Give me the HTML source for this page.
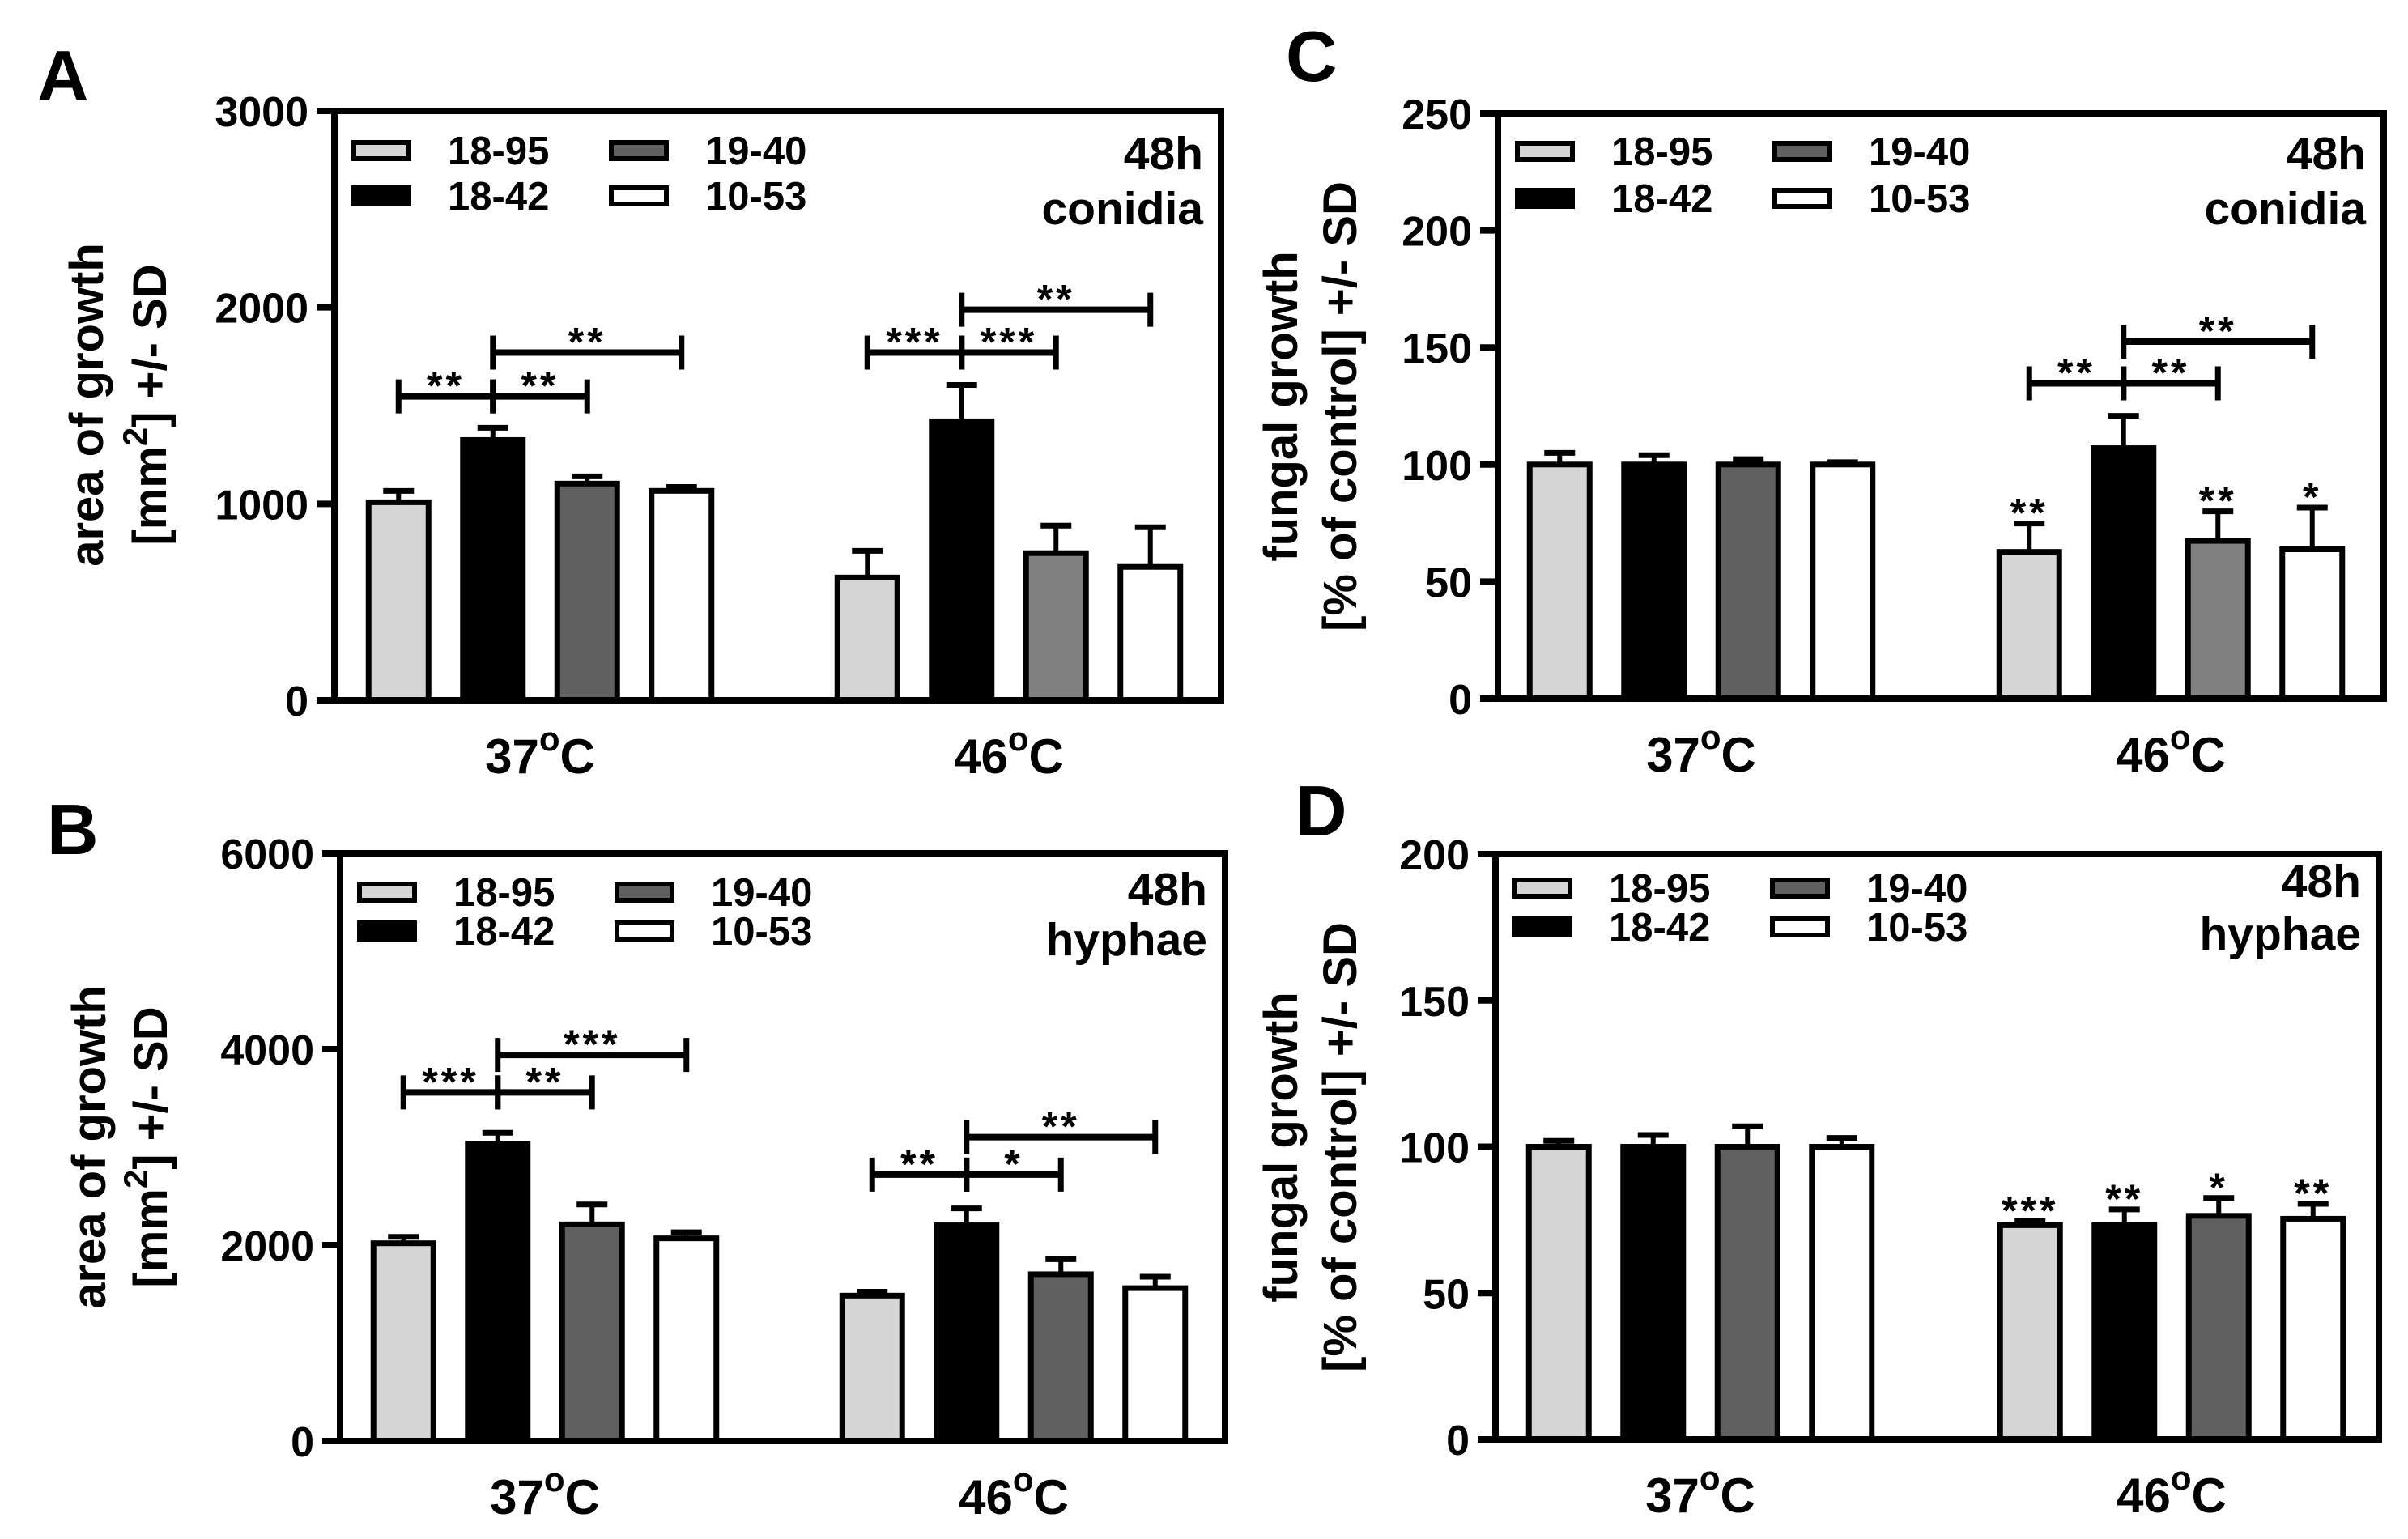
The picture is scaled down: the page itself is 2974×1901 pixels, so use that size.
<!DOCTYPE html>
<html><head><meta charset="utf-8"><title>Fungal growth panels</title>
<style>
html,body{margin:0;padding:0;background:#fff;}
svg{display:block;}
text{font-family:"Liberation Sans",Arial,sans-serif;font-weight:bold;fill:#000;}
</style></head>
<body>
<svg id="fig" width="2974" height="1901" viewBox="0 0 2974 1901" xmlns="http://www.w3.org/2000/svg"></svg>
<script>
// ---- data ----
const categories = ["37", "46"];
const strains = ["18-95", "18-42", "19-40", "10-53"];
// Panel A: area of growth, conidia (mm2)
const aMeans = [[1008, 1325, 1103, 1066], [625, 1420, 749, 679]];
const aErr   = [[1066, 1387, 1140, 1086], [761, 1605, 889, 881]];
// Panel B: area of growth, hyphae (mm2)
const bMeans = [[2019, 3036, 2212, 2069], [1485, 2202, 1703, 1561]];
const bErr   = [[2085, 3147, 2415, 2131], [1525, 2375, 1856, 1678]];
// Panel C: % of control, conidia
const cMeans = [[100, 100, 100, 100], [62.7, 107, 67.4, 63.8]];
const cErr   = [[105, 104, 102.3, 101], [74.8, 120.8, 80, 81.6]];
// Panel D: % of control, hyphae
const dMeans = [[100, 100, 100, 100], [73.2, 73.2, 76.4, 75.4]];
const dErr   = [[102, 104, 107, 103], [74.6, 78.6, 82.5, 80.5]];
// tick labels
const aTicks = [0, 1000, 2000, 3000];
const bTicks = [0, 2000, 4000, 6000];
const cTicks = [0, 50, 100, 150, 200, 250];
const dTicks = [0, 50, 100, 150, 200];
// significance brackets: [group, barFrom, barTo, value, label]
const aBrackets = [[0,0,1,1547,"**"],[0,1,2,1547,"**"],[0,1,3,1770,"**"],[1,0,1,1770,"***"],[1,1,2,1770,"***"],[1,1,3,1988,"**"]];
const bBrackets = [[0,0,1,3559,"***"],[0,1,2,3559,"**"],[0,1,3,3941,"***"],[1,0,1,2720,"**"],[1,1,2,2720,"*"],[1,1,3,3102,"**"]];
const cBrackets = [[1,0,1,134.7,"**"],[1,1,2,134.7,"**"],[1,1,3,152.5,"**"]];
const dBrackets = [];
// stars above individual bars: [group, bar, label]
const cStars = [[1,0,"**"],[1,2,"**"],[1,3,"*"]];
const dStars = [[1,0,"***"],[1,1,"**"],[1,2,"*"],[1,3,"**"]];
</script>
<script>
const NS = "http://www.w3.org/2000/svg";
const svg = document.getElementById("fig");
function mk(tag, attrs, parent) {
  const e = document.createElementNS(NS, tag);
  for (const k in attrs) e.setAttribute(k, attrs[k]);
  (parent || svg).appendChild(e);
  return e;
}
const fills = ["#d5d5d5", "#000000", "#606060", "#ffffff"];

const panels = [
  {id:"a", letter:"A", lx:46, ly:124, x0:413, x1:1508, yT:137, yB:865, max:3000, ticks:aTicks, means:aMeans, err:aErr,
   g:[667,1246], br:aBrackets, stars:[], t1:"area of growth", t2:"mm2", tx1:127, tx2:205, ty:500,
   legTop:186, legGap:56, hx:"conidia", h1:209, h2:277, gray46:"#808080"},
  {id:"b", letter:"B", lx:58, ly:1055, x0:420, x1:1513, yT:1054, yB:1780, max:6000, ticks:bTicks, means:bMeans, err:bErr,
   g:[673,1252], br:bBrackets, stars:[], t1:"area of growth", t2:"mm2", tx1:130, tx2:206, ty:1417,
   legTop:1102, legGap:48, hx:"hyphae", h1:1118, h2:1180, gray46:"#606060"},
  {id:"c", letter:"C", lx:1588, ly:100, x0:1850, x1:2944, yT:140, yB:863, max:250, ticks:cTicks, means:cMeans, err:cErr,
   g:[2101,2681], br:cBrackets, stars:cStars, t1:"fungal growth", t2:"pct", tx1:1602, tx2:1675, ty:502,
   legTop:187, legGap:58, hx:"conidia", h1:209, h2:277, gray46:"#808080"},
  {id:"d", letter:"D", lx:1600, ly:1032, x0:1847, x1:2938, yT:1055, yB:1778, max:200, ticks:dTicks, means:dMeans, err:dErr,
   g:[2100,2682], br:dBrackets, stars:dStars, t1:"fungal growth", t2:"pct", tx1:1602, tx2:1675, ty:1417,
   legTop:1097, legGap:48, hx:"hyphae", h1:1108, h2:1173, gray46:"#606060"}
];

const PITCH = 116.5, BW = 74;

panels.forEach(p => {
  const grp = mk("g", {});
  
  
  const y = v => p.yB - v / p.max * (p.yB - p.yT);
  const bx = (gi, si) => p.g[gi] + (si - 1.5) * PITCH;

  const L = mk("text", {x:p.lx, y:p.ly, "font-size":88}, grp);
  L.textContent = p.letter;
  
  

  // bars
  p.means.forEach((row, gi) => {
    row.forEach((v, si) => {
      const cx = bx(gi, si);
      const e = p.err[gi][si];
      const el = mk("line", {x1:cx, x2:cx, y1:y(v), y2:y(e), stroke:"#000", "stroke-width":6}, grp);
      
      
      const cap = mk("line", {x1:cx-19, x2:cx+19, y1:y(e), y2:y(e), stroke:"#000", "stroke-width":7}, grp);
      
      
      let f = fills[si];
      if (si === 2 && gi === 1) f = p.gray46;
      const r = mk("rect", {x:cx-BW/2, y:y(v), width:BW, height:y(0)-y(v), fill:f, stroke:"#000", "stroke-width":7}, grp);
      
      
    });
  });

  // frame
  const fr = mk("rect", {x:p.x0, y:p.yT, width:p.x1-p.x0, height:p.yB-p.yT, fill:"none", stroke:"#000", "stroke-width":8}, grp);
  
  

  // ticks
  p.ticks.forEach(t => {
    const tl = mk("line", {x1:p.x0-22, x2:p.x0, y1:y(t), y2:y(t), stroke:"#000", "stroke-width":8}, grp);
    
    
    const tt = mk("text", {x:p.x0-32, y:y(t)+19, "font-size":52, "text-anchor":"end"}, grp);
    tt.textContent = t;
    
    
  });

  // x labels
  categories.forEach((c, gi) => {
    const xl = mk("text", {x:p.g[gi], y:p.yB+90, "font-size":60, "text-anchor":"middle"}, grp);
    
    
    const s1 = mk("tspan", {}, xl); s1.textContent = c;
    const s2 = mk("tspan", {dy:-28, "font-size":42}, xl); s2.textContent = "o";
    const s3 = mk("tspan", {dy:28}, xl); s3.textContent = "C";
  });

  // y title
  const t1 = mk("text", {transform:`translate(${p.tx1},${p.ty}) rotate(-90)`, "font-size":58, "text-anchor":"middle"}, grp);
  t1.textContent = p.t1;
  
  
  const t2 = mk("text", {transform:`translate(${p.tx2},${p.ty}) rotate(-90)`, "font-size":58, "text-anchor":"middle"}, grp);
  
  
  if (p.t2 === "mm2") {
    const a = mk("tspan", {}, t2); a.textContent = "[mm";
    const b = mk("tspan", {dy:-24, "font-size":42}, t2); b.textContent = "2";
    const c = mk("tspan", {dy:24}, t2); c.textContent = "] +/- SD";
  } else {
    t2.textContent = "[% of control] +/- SD";
  }

  // legend
  strains.forEach((s, si) => {
    const col = si === 0 || si === 1 ? 0 : 1;
    const row = si === 0 || si === 2 ? 0 : 1;
    const lx = p.x0 + 21 + col * 318;
    const cy = p.legTop + row * p.legGap;
    const lb = mk("rect", {x:lx+3, y:cy-10, width:68, height:20, fill:fills[si], stroke:"#000", "stroke-width":6}, grp);
    
    
    const lt = mk("text", {x:lx+119, y:cy+17, "font-size":49}, grp);
    lt.textContent = s;
    
    
  });
  const h1 = mk("text", {x:p.x1-22, y:p.h1, "font-size":57, "text-anchor":"end"}, grp);
  h1.textContent = "48h";
  
  
  const h2 = mk("text", {x:p.x1-22, y:p.h2, "font-size":57, "text-anchor":"end"}, grp);
  h2.textContent = p.hx;
  
  

  // brackets
  p.br.forEach(b => {
    const xa = bx(b[0], b[1]), xb = bx(b[0], b[2]), yy = y(b[3]);
    const hl = mk("line", {x1:xa, x2:xb, y1:yy, y2:yy, stroke:"#000", "stroke-width":8}, grp);
    
    
    [xa, xb].forEach(xx => {
      const tk = mk("line", {x1:xx, x2:xx, y1:yy-21, y2:yy+21, stroke:"#000", "stroke-width":7}, grp);
      
      
    });
    const st = mk("text", {x:(xa+xb)/2, y:yy+4, "font-size":50, "text-anchor":"middle", "letter-spacing":4}, grp);
    st.textContent = b[4];
    
    
  });
  p.stars.forEach(s => {
    const st = mk("text", {x:bx(s[0], s[1]), y:y(p.err[s[0]][s[1]])+4, "font-size":50, "text-anchor":"middle", "letter-spacing":4}, grp);
    st.textContent = s[2];
    
    
  });
});
</script>
</body></html>
